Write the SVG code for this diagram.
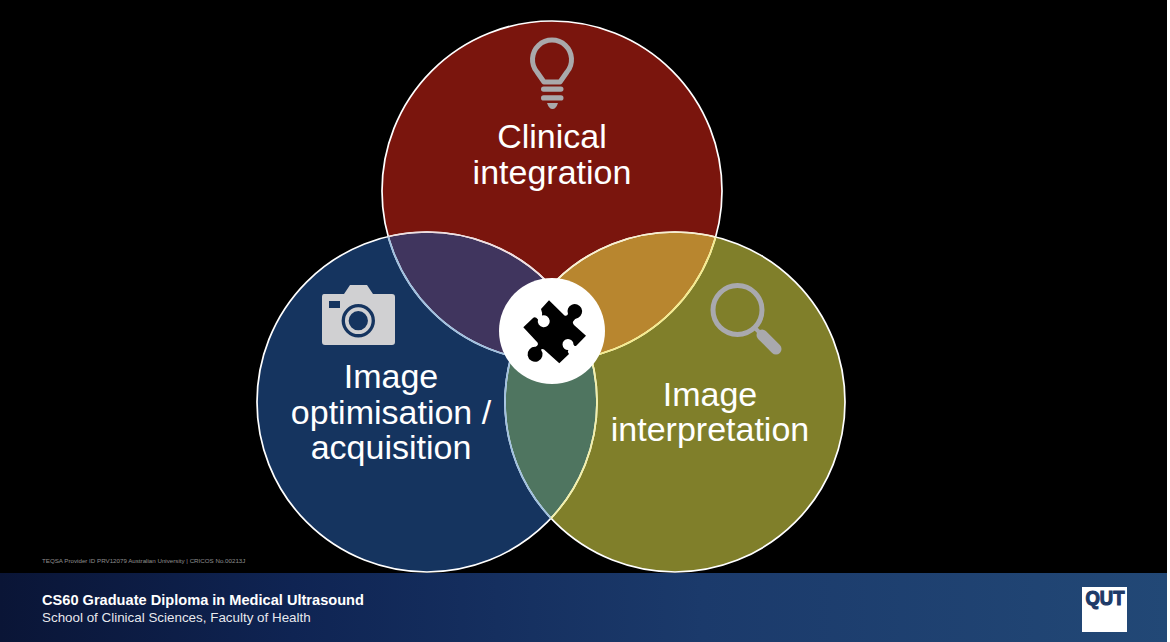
<svg xmlns="http://www.w3.org/2000/svg" width="1170" height="642" viewBox="0 0 1170 642">
<style>
.lbl{font-family:"Liberation Sans",Arial,sans-serif;font-size:34px;fill:#fff;text-anchor:middle}
.ico{fill:#a9a9ab}
.ft{font-family:"Liberation Sans",Arial,sans-serif;fill:#fff}
</style>
<defs>
<linearGradient id="bar" x1="0" x2="1" y1="0" y2="0"><stop offset="0" stop-color="#0a1536"/><stop offset="0.25" stop-color="#0f2453"/><stop offset="0.6" stop-color="#1b3a6b"/><stop offset="1" stop-color="#224876"/></linearGradient>
<clipPath id="cT"><circle cx="552" cy="191" r="170"/></clipPath>
<clipPath id="cL"><circle cx="427" cy="402" r="170"/></clipPath>
<clipPath id="cR"><circle cx="675" cy="402" r="170"/></clipPath>
</defs>
<rect width="1170" height="642" fill="#000"/>
<g id="footer">
<rect x="0" y="573" width="1170" height="69" fill="url(#bar)"/>
<text class="ft" x="42" y="563" font-size="6.2" fill-opacity="0.55">TEQSA Provider ID PRV12079  Australian University | CRICOS No.00213J</text>
<text class="ft" x="42" y="605" font-size="14.6" font-weight="bold">CS60 Graduate Diploma in Medical Ultrasound</text>
<text class="ft" x="42" y="622" font-size="13.4" fill-opacity="0.92">School of Clinical Sciences, Faculty of Health</text>
</g>
<g id="logo">
<rect x="1082" y="587" width="45" height="45" fill="#fff"/>
<text x="1105" y="604.500" font-family="'Liberation Sans',Arial,sans-serif" font-size="20" font-weight="bold" fill="#1d3a68" stroke="#1d3a68" stroke-width="1.200" text-anchor="middle" textLength="39" lengthAdjust="spacingAndGlyphs">QUT</text>
</g>
<g id="node-clinical">
<circle cx="552" cy="191" r="170" fill="#7a150d"/>
</g>
<g id="node-acquisition">
<circle cx="427" cy="402" r="170" fill="#15345f"/>
</g>
<g id="node-interpretation">
<circle cx="675" cy="402" r="170" fill="#807f2a"/>
</g>
<g id="overlaps">
<circle cx="427" cy="402" r="170" fill="#40355e" clip-path="url(#cT)"/>
<circle cx="675" cy="402" r="170" fill="#b8862f" clip-path="url(#cT)"/>
<circle cx="675" cy="402" r="170" fill="#4f7560" clip-path="url(#cL)"/>
</g>
<g id="outlines" fill="none" stroke-width="1.700">
<circle cx="552" cy="191" r="170" stroke="#fff"/>
<circle cx="427" cy="402" r="170" stroke="#fff"/>
<circle cx="675" cy="402" r="170" stroke="#fff"/>
<circle cx="427" cy="402" r="170" stroke="#f0dfe0" clip-path="url(#cT)"/>
<circle cx="552" cy="191" r="170" stroke="#9fc0e0" clip-path="url(#cL)"/>
<circle cx="552" cy="191" r="170" stroke="#f6ec8a" clip-path="url(#cR)"/>
<circle cx="675" cy="402" r="170" stroke="#f8f0d0" clip-path="url(#cT)"/>
<circle cx="675" cy="402" r="170" stroke="#9fc0e0" clip-path="url(#cL)"/>
<circle cx="427" cy="402" r="170" stroke="#f4f0a8" clip-path="url(#cR)"/>
</g>
<g id="icon-bulb">
<path d="M544 82 L537 72 A19.500 19.500 0 1 1 567 72 L560 82 Z" fill="none" stroke="#a9a9ab" stroke-width="5" stroke-linejoin="round"/>
<rect class="ico" x="541" y="86.500" width="22.500" height="5.200" rx="2.600"/>
<rect class="ico" x="541" y="95.300" width="22.500" height="5.200" rx="2.600"/>
<path class="ico" d="M547 103 H558 Q556 109 552.500 109 Q549 109 547 103Z"/>
</g>
<g id="icon-camera">
<path class="ico" style="fill:#d0d0d2" fill-rule="evenodd" d="M324 294 H344 L350 285 H367 L373 294 H392 Q395 294 395 297 V342 Q395 345 392 345 H325 Q322 345 322 342 V297 Q322 294 324 294Z M329 301 V308 H340 V301Z M358.300 304 A16.700 16.700 0 1 0 358.300 337.400 A16.700 16.700 0 1 0 358.300 304Z"/>
<circle cx="358.300" cy="320.700" r="11.500" fill="none" stroke="#d0d0d2" stroke-width="3.700"/>
</g>
<g id="icon-magnifier">
<circle cx="737.500" cy="310" r="24.500" fill="none" stroke="#a9a9ae" stroke-width="5"/>
<path d="M755 328 L760 333" stroke="#a9a9ae" stroke-width="4" fill="none"/>
<path d="M762 335 L776 349" stroke="#a9a9ae" stroke-width="11" stroke-linecap="round" fill="none"/>
</g>
<g id="labels">
<text class="lbl" x="552" y="148">Clinical</text>
<text class="lbl" x="552" y="184">integration</text>
<text class="lbl" x="391" y="388">Image</text>
<text class="lbl" x="391" y="424">optimisation /</text>
<text class="lbl" x="391" y="459">acquisition</text>
<text class="lbl" x="710" y="406">Image</text>
<text class="lbl" x="710" y="441">interpretation</text>
</g>
<g id="node-centre">
<circle cx="552" cy="331" r="53" fill="#fff"/>
<path fill="#000" d="M549 300.300 L564.500 315.500 Q567 316.500 568 314 A7.300 7.300 0 1 1 578.300 317.700 Q574.500 318.500 573.500 321 Q572 322.500 574 325 L586 335.700 L576.500 345.500 Q574.500 347 573.500 344.500 A5.500 5.500 0 1 0 568.500 350 Q567 351.500 569 354 L559.300 363.300 L544 349.500 Q542 348.500 541 349.700 A7.500 7.500 0 1 1 535.700 346.800 Q539 345 537.500 342.500 L523.300 327.300 L533.300 317.700 Q535.500 316.500 538 319.500 A6 6 0 1 0 542 315.500 Q542.500 313 541 309 Z"/>
</g>
<rect id="edge" x="1167" y="0" width="3" height="642" fill="#fff"/>
</svg>
